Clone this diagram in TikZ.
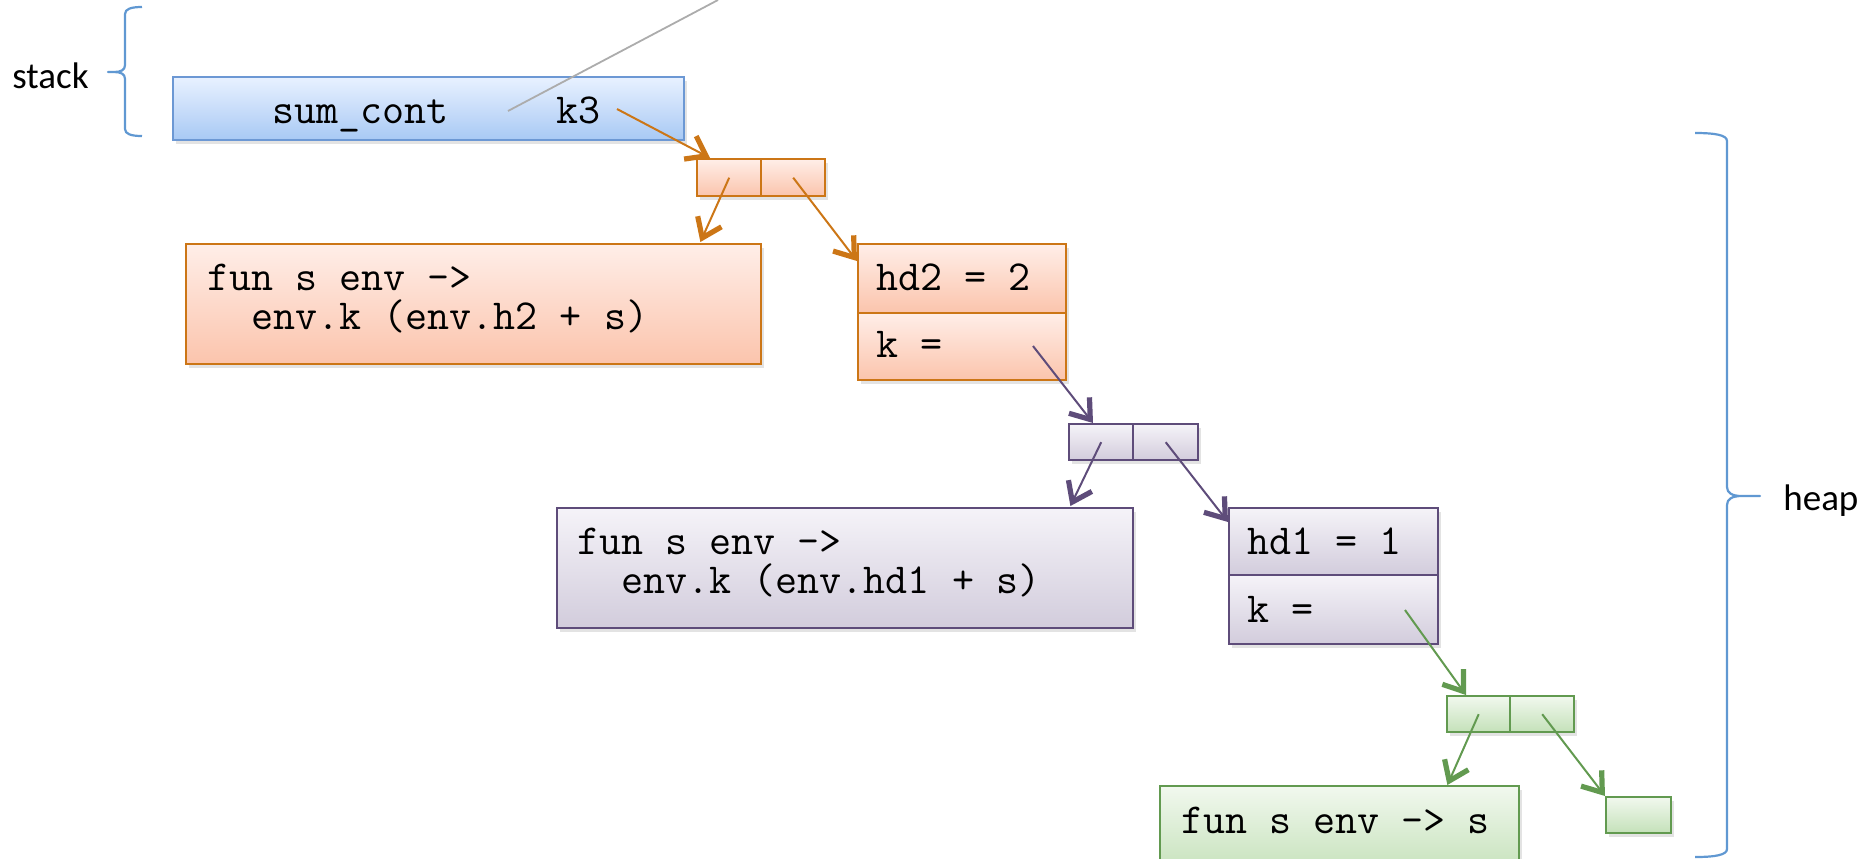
\documentclass[tikz,border=0pt]{standalone}
\usepackage{fontspec}
\setmainfont{Carlito}
\usetikzlibrary{arrows.meta,shadows,calc}

% palette
\definecolor{bluedraw}{RGB}{108,152,212}
\definecolor{bluetop}{RGB}{232,241,255}
\definecolor{bluebot}{RGB}{168,201,244}
\definecolor{ordraw}{RGB}{204,118,22}
\definecolor{ortop}{RGB}{255,238,232}
\definecolor{orbot}{RGB}{251,196,172}
\definecolor{pudraw}{RGB}{94,76,122}
\definecolor{putop}{RGB}{245,243,248}
\definecolor{pubot}{RGB}{210,204,220}
\definecolor{grdraw}{RGB}{98,154,80}
\definecolor{grtop}{RGB}{241,248,238}
\definecolor{grbot}{RGB}{196,225,185}
\definecolor{bracecol}{RGB}{96,152,210}
\definecolor{pointer}{RGB}{172,172,172}

\tikzset{
  cell/.style={draw, rectangle, inner sep=0pt, anchor=north west, line width=1.2pt,
    drop shadow={shadow xshift=1.4pt, shadow yshift=-1.8pt, opacity=0.22}},
  bluecell/.style={cell, draw=bluedraw, top color=bluetop, bottom color=bluebot},
  orcell/.style={cell, draw=ordraw, top color=ortop, bottom color=orbot},
  pucell/.style={cell, draw=pudraw, top color=putop, bottom color=pubot},
  grcell/.style={cell, draw=grdraw, top color=grtop, bottom color=grbot},
  code/.style={font=\ttfamily\fontsize{21.4pt}{24pt}\selectfont, anchor=base west, inner sep=0pt},
  label/.style={font=\fontsize{18.5pt}{22pt}\selectfont, anchor=base west, inner sep=0pt},
  link/.style={line width=1pt, -{Straight Barb[length=9pt,width=13pt,line width=2.6pt]}},
  orlink/.style={link, draw=ordraw},
  pulink/.style={link, draw=pudraw},
  grlink/.style={link, draw=grdraw},
  bracepath/.style={draw=bracecol, line width=1.1pt, line join=round},
}

\begin{document}
\begin{tikzpicture}[x=0.5pt,y=-0.5pt]
\useasboundingbox (0,0) rectangle (1860,858);

% ---- stack frame ----
\node[bluecell, minimum width=255.5pt, minimum height=31.5pt] (frame) at (172,76) {};
\node[code] (sumcont) at (272,123) {sum\_cont};
\node[code] (kthree) at (556,123) {k3};

% ---- first closure (orange) ----
\node[orcell, minimum width=32pt, minimum height=18.5pt] (opairL) at (696,158) {};
\node[orcell, minimum width=32pt, minimum height=18.5pt] (opairR) at (760,158) {};
\node[orcell, minimum width=287.5pt, minimum height=60pt] (ofun) at (185,243) {};
\node[code] (ofunA) at (207,290) {fun s env ->};
\node[code] (ofunB) at (251,329) {env.k (env.h2 + s)};
\node[orcell, minimum width=104pt, minimum height=34.5pt] (orecT) at (857,243) {};
\node[orcell, minimum width=104pt, minimum height=33.5pt] (orecB) at (857,312) {};
\node[code] (orecTx) at (876,290) {hd2 = 2};
\node[code] (orecBx) at (876,357) {k =};

% ---- second closure (purple) ----
\node[pucell, minimum width=32pt, minimum height=18pt] (ppairL) at (1068,423) {};
\node[pucell, minimum width=32.5pt, minimum height=18pt] (ppairR) at (1132,423) {};
\node[pucell, minimum width=288pt, minimum height=60pt] (pfun) at (556,507) {};
\node[code] (pfunA) at (577,554) {fun s env ->};
\node[code] (pfunB) at (621,593) {env.k (env.hd1 + s)};
\node[pucell, minimum width=104.5pt, minimum height=33.5pt] (precT) at (1228,507) {};
\node[pucell, minimum width=104.5pt, minimum height=34.5pt] (precB) at (1228,574) {};
\node[code] (precTx) at (1247,554) {hd1 = 1};
\node[code] (precBx) at (1247,622) {k =};

% ---- identity continuation (green) ----
\node[grcell, minimum width=31.5pt, minimum height=18pt] (gpairL) at (1446,695) {};
\node[grcell, minimum width=32pt, minimum height=18pt] (gpairR) at (1509,695) {};
\node[grcell, minimum width=179.5pt, minimum height=45pt] (gfun) at (1159,785) {};
\node[code] (gfunx) at (1181,833) {fun s env -> s};
\node[grcell, minimum width=32.5pt, minimum height=18pt] (gunit) at (1605,796) {};

% ---- pointers ----
\coordinate (grayend) at (718,0);
\draw[pointer, line width=0.9pt] ($(frame.north west)+(336,35)$) -- (grayend);

\draw[orlink] ($(frame.north west)+(445,33)$) -- ($(opairL.north west)+(14,0)$);
\draw[orlink] (opairL.center) -- ($(ofun.north east)+(-62,-1)$);
\draw[orlink] (opairR.center) -- ($(orecT.north west)+(0,18)$);

\draw[pulink] ($(orecB.north west)+(176,34)$) -- ($(ppairL.north west)+(25,0)$);
\draw[pulink] (ppairL.center) -- ($(pfun.north east)+(-64,-1)$);
\draw[pulink] (ppairR.center) -- ($(precT.north west)+(0,15)$);

\draw[grlink] ($(precB.north west)+(177,36)$) -- ($(gpairL.north west)+(20,0)$);
\draw[grlink] (gpairL.center) -- ($(gfun.north east)+(-73,0)$);
\draw[grlink] (gpairR.center) -- (gunit.north west);

% ---- region braces ----
\draw[bracepath] (142,7) .. controls (131,7) and (125,9) .. (125,14) -- (125,65)
  .. controls (125,70) and (121,72) .. (114,72) -- (108,72) -- (114,72)
  .. controls (121,72) and (125,74) .. (125,79) -- (125,129)
  .. controls (125,134) and (131,136) .. (142,136);
\node[label] (stacklbl) at (12,88) {stack};

\draw[bracepath] (1695,133) .. controls (1715,133) and (1727,135) .. (1727,141) -- (1727,487)
  .. controls (1727,493) and (1732,496) .. (1742,496) -- (1760,496) -- (1742,496)
  .. controls (1732,496) and (1727,499) .. (1727,505) -- (1727,849)
  .. controls (1727,855) and (1715,857) .. (1695,857);
\node[label] (heaplbl) at (1783,510) {heap};
\end{tikzpicture}
\end{document}
